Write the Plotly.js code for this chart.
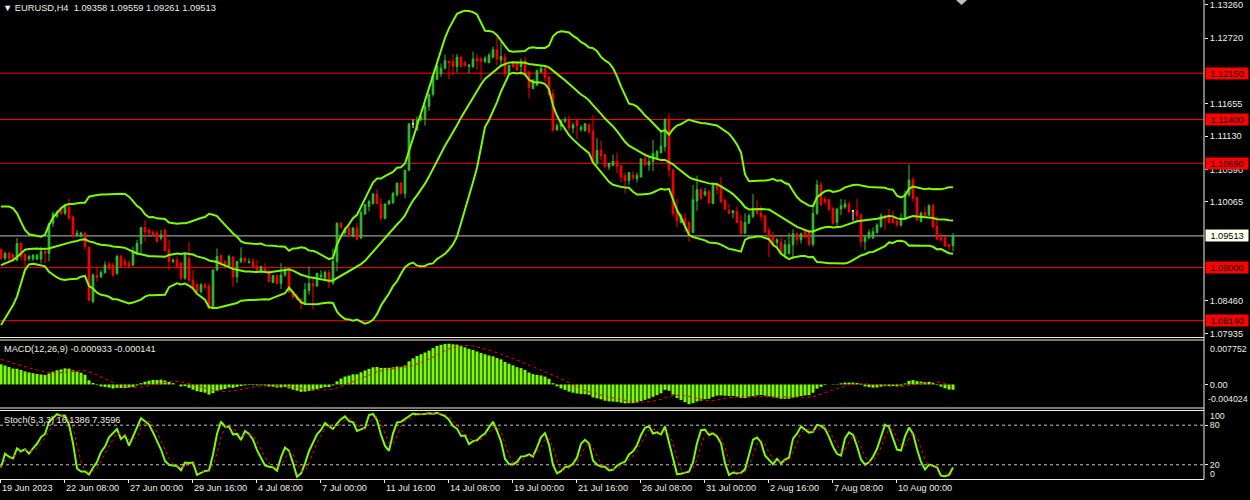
<!DOCTYPE html>
<html>
<head>
<meta charset="utf-8">
<script src="https://cdn.plot.ly/plotly-3.0.1.min.js"></script>
<style>
  html, body { margin: 0; padding: 0; background: #000; }
  #chart { width: 1250px; height: 500px; }
</style>
</head>
<body>
<div id="chart"></div>
<script>
// EURUSD H4 bars, 19 Jun 2023 16:00 onwards
const open = [
  1.0929,1.0915,1.0923,1.0921,1.0912,1.0939,1.0922,1.0914,1.0914,1.0914,
  1.0914,1.0926,1.0923,1.0972,1.0983,1.0993,1.0988,1.0998,1.0982,1.0953,
  1.0951,1.0956,1.0933,1.0845,1.0887,1.0885,1.0892,1.0906,1.0904,1.0891,
  1.0918,1.0910,1.0907,1.0904,1.0923,1.0939,1.0965,1.0961,1.0957,1.0956,
  1.0948,1.0961,1.0929,1.0910,1.0912,1.0907,1.0883,1.0915,1.0880,1.0872,
  1.0861,1.0872,1.0870,1.0834,1.0896,1.0919,1.0910,1.0902,1.0917,1.0885,
  1.0910,1.0915,1.0908,1.0910,1.0902,1.0894,1.0899,1.0895,1.0876,1.0887,
  1.0874,1.0888,1.0896,1.0860,1.0853,1.0849,1.0842,1.0863,1.0874,1.0870,
  1.0885,1.0883,1.0892,1.0875,1.0910,1.0972,1.0956,1.0964,1.0951,1.0964,
  1.0948,1.0987,1.0999,1.1004,1.1019,1.1003,1.0980,1.1003,1.1005,1.1018,
  1.1037,1.1020,1.1058,1.1133,1.1123,1.1139,1.1140,1.1161,1.1181,1.1205,
  1.1214,1.1223,1.1234,1.1234,1.1226,1.1241,1.1232,1.1226,1.1226,1.1239,
  1.1238,1.1234,1.1232,1.1241,1.1253,1.1236,1.1241,1.1215,1.1232,1.1232,
  1.1226,1.1235,1.1217,1.1190,1.1196,1.1217,1.1223,1.1209,1.1182,1.1123,
  1.1129,1.1137,1.1140,1.1126,1.1138,1.1124,1.1122,1.1131,1.1121,1.1069,
  1.1090,1.1083,1.1063,1.1066,1.1072,1.1065,1.1049,1.1041,1.1050,1.1044,
  1.1047,1.1076,1.1066,1.1072,1.1076,1.1086,1.1096,1.1140,1.1058,1.0992,
  1.0973,1.0980,1.0973,1.0957,1.1008,1.1026,1.1018,1.1023,1.1004,1.1036,
  1.1029,1.1009,1.0993,1.0989,1.0991,1.0975,1.0956,1.0972,1.0983,1.0996,
  1.0988,1.0984,1.0960,1.0951,1.0941,1.0941,1.0921,1.0923,1.0937,1.0955,
  1.0945,1.0961,1.0957,1.0938,1.0988,1.1034,1.1011,1.1010,1.0996,1.0973,
  1.0995,1.0998,1.1003,1.0992,1.0992,1.0985,1.0942,1.0948,1.0948,1.0957,
  1.0966,1.0984,1.0984,1.0980,1.0975,1.0969,1.0978,1.1018,1.1042,1.1014,
  1.0975,1.0989,1.0985,1.1000,1.0967,1.0948,1.0949,1.0937,1.09358
];
const high = [
  1.0931,1.0926,1.0926,1.0923,1.0948,1.0941,1.0923,1.0921,1.0922,1.0922,
  1.0934,1.0931,1.0972,1.0991,1.0993,1.0996,1.1003,1.1012,1.0984,1.0961,
  1.0958,1.0957,1.0934,1.0891,1.0902,1.0896,1.0910,1.0910,1.0908,1.0921,
  1.0921,1.0915,1.0912,1.0934,1.0945,1.0966,1.0977,1.0964,1.0961,1.0961,
  1.0961,1.0962,1.0945,1.0915,1.0918,1.0910,1.0921,1.0942,1.0896,1.0875,
  1.0875,1.0875,1.0875,1.0897,1.0931,1.0922,1.0912,1.0921,1.0918,1.0910,
  1.0933,1.0917,1.0915,1.0915,1.0912,1.0903,1.0907,1.0896,1.0888,1.0888,
  1.0907,1.0902,1.0899,1.0863,1.0858,1.0850,1.0875,1.0902,1.0885,1.0891,
  1.0896,1.0895,1.0896,1.0931,1.0972,1.0974,1.0966,1.0969,1.0966,1.0973,
  1.0993,1.1003,1.1010,1.1021,1.1027,1.1012,1.1004,1.1010,1.1023,1.1037,
  1.1039,1.1058,1.1133,1.1140,1.1145,1.1146,1.1166,1.1181,1.1215,1.1227,
  1.1231,1.1245,1.1236,1.1246,1.1246,1.1242,1.1235,1.1230,1.1250,1.1246,
  1.1242,1.1243,1.1248,1.1258,1.1277,1.1266,1.1247,1.1228,1.1235,1.1234,
  1.1239,1.1241,1.1219,1.1205,1.1221,1.1228,1.1226,1.1211,1.1189,1.1134,
  1.1138,1.1144,1.1146,1.1135,1.1139,1.1131,1.1134,1.1134,1.1147,1.1110,
  1.1106,1.1084,1.1070,1.1083,1.1086,1.1066,1.1054,1.1054,1.1056,1.1054,
  1.1077,1.1086,1.1080,1.1107,1.1091,1.1123,1.1142,1.1150,1.1061,1.1011,
  1.0988,1.0988,1.0975,1.1034,1.1049,1.1029,1.1029,1.1026,1.1038,1.1039,
  1.1047,1.1012,1.1003,1.0993,1.0999,1.0985,1.0988,1.0988,1.1019,1.1009,
  1.1000,1.0985,1.0966,1.0958,1.0948,1.0949,1.0945,1.0956,1.0962,1.0957,
  1.0957,1.0962,1.0961,1.0999,1.1042,1.1039,1.1015,1.1011,1.0998,1.0996,
  1.1011,1.1010,1.1007,1.0993,1.1011,1.0988,1.0953,1.0962,1.0965,1.0972,
  1.0988,1.0985,1.0995,1.0992,1.0977,1.0988,1.1025,1.1067,1.1047,1.1015,
  1.0991,1.0998,1.1003,1.1004,1.0983,1.0956,1.0950,1.0939,1.09559
];
const low = [
  1.0912,1.0912,1.0910,1.0910,1.0910,1.0912,1.0891,1.0911,1.0911,1.0912,
  1.0907,1.0907,1.0910,1.0966,1.0980,1.0985,1.0985,1.0977,1.0948,1.0950,
  1.0949,1.0929,1.0845,1.0842,1.0877,1.0883,1.0890,1.0896,1.0885,1.0888,
  1.0899,1.0902,1.0901,1.0902,1.0921,1.0923,1.0942,1.0953,1.0950,1.0941,
  1.0944,1.0926,1.0896,1.0907,1.0899,1.0880,1.0880,1.0875,1.0864,1.0858,
  1.0858,1.0864,1.0832,1.0832,1.0894,1.0902,1.0899,1.0899,1.0869,1.0875,
  1.0907,1.0907,1.0907,1.0899,1.0894,1.0891,1.0891,1.0877,1.0875,1.0874,
  1.0865,1.0885,1.0860,1.0850,1.0847,1.0832,1.0840,1.0856,1.0832,1.0869,
  1.0883,1.0880,1.0867,1.0872,1.0894,1.0964,1.0953,1.0950,1.0949,1.0944,
  1.0946,1.0985,1.0991,1.1002,1.1003,1.0976,1.0978,1.1002,1.1003,1.1015,
  1.1019,1.1012,1.1056,1.1126,1.1122,1.1138,1.1130,1.1154,1.1177,1.1204,
  1.1209,1.1221,1.1205,1.1211,1.1216,1.1226,1.1226,1.1215,1.1223,1.1220,
  1.1203,1.1231,1.1231,1.1239,1.1228,1.1228,1.1209,1.1214,1.1223,1.1219,
  1.1212,1.1209,1.1174,1.1189,1.1194,1.1215,1.1200,1.1177,1.1119,1.1122,
  1.1122,1.1134,1.1122,1.1118,1.1108,1.1120,1.1120,1.1117,1.1066,1.1066,
  1.1074,1.1061,1.1058,1.1064,1.1053,1.1038,1.1020,1.1034,1.1042,1.1038,
  1.1046,1.1064,1.1057,1.1056,1.1074,1.1085,1.1088,1.1047,1.0983,1.0965,
  1.0972,1.0958,1.0942,1.0956,1.0992,1.1010,1.1015,1.1003,1.1003,1.1019,
  1.1004,1.0993,1.0987,1.0980,1.0972,1.0953,1.0954,1.0971,1.0980,1.0985,
  1.0976,1.0956,1.0917,1.0934,1.0931,1.0921,1.0915,1.0921,1.0915,1.0937,
  1.0939,1.0948,1.0935,1.0934,1.0985,1.0999,1.1002,1.0991,1.0969,1.0966,
  1.0985,1.0995,1.0988,1.0976,1.0973,1.0934,1.0928,1.0946,1.0946,1.0955,
  1.0965,1.0961,1.0971,1.0971,1.0966,1.0966,1.0977,1.1015,1.1007,1.0975,
  1.0973,1.0983,1.0984,1.0964,1.0945,1.0942,1.0934,1.0928,1.09261
];
const close = [
  1.0915,1.0923,1.0915,1.0912,1.0939,1.0918,1.0912,1.0918,1.0920,1.0920,
  1.0926,1.0923,1.0971,1.0987,1.0990,1.0988,1.1000,1.0980,1.0951,1.0956,
  1.0956,1.0934,1.0847,1.0888,1.0884,1.0892,1.0904,1.0899,1.0888,1.0918,
  1.0902,1.0904,1.0902,1.0926,1.0939,1.0965,1.0958,1.0956,1.0953,1.0942,
  1.0953,1.0928,1.0910,1.0912,1.0902,1.0883,1.0921,1.0880,1.0867,1.0861,
  1.0872,1.0868,1.0834,1.0896,1.0918,1.0907,1.0902,1.0918,1.0885,1.0910,
  1.0915,1.0911,1.0909,1.0901,1.0896,1.0902,1.0895,1.0877,1.0887,1.0874,
  1.0888,1.0896,1.0860,1.0852,1.0848,1.0842,1.0864,1.0874,1.0870,1.0891,
  1.0888,1.0892,1.0876,1.0910,1.0972,1.0965,1.0962,1.0951,1.0964,1.0946,
  1.0989,1.1002,1.1007,1.1019,1.1004,1.0980,1.1003,1.1008,1.1020,1.1037,
  1.1020,1.1058,1.1133,1.1133,1.1139,1.1145,1.1161,1.1181,1.1212,1.1227,
  1.1223,1.1235,1.1232,1.1226,1.1241,1.1226,1.1227,1.1228,1.1238,1.1235,
  1.1234,1.1239,1.1244,1.1253,1.1238,1.1242,1.1215,1.1228,1.1226,1.1220,
  1.1234,1.1215,1.1192,1.1204,1.1219,1.1223,1.1208,1.1181,1.1123,1.1130,
  1.1138,1.1140,1.1126,1.1131,1.1130,1.1127,1.1133,1.1120,1.1069,1.1090,
  1.1081,1.1064,1.1069,1.1072,1.1064,1.1047,1.1041,1.1054,1.1045,1.1049,
  1.1076,1.1067,1.1072,1.1085,1.1088,1.1097,1.1140,1.1058,1.0988,1.0976,
  1.0984,1.0971,1.0957,1.1010,1.1026,1.1012,1.1023,1.1005,1.1036,1.1027,
  1.1007,1.0995,1.0988,1.0992,1.0973,1.0956,1.0973,1.0984,1.0996,1.0988,
  1.0983,1.0958,1.0949,1.0937,1.0945,1.0923,1.0937,1.0937,1.0955,1.0945,
  1.0955,1.0949,1.0938,1.0988,1.1034,1.1002,1.1007,1.0995,1.0972,1.0995,
  1.1000,1.1003,1.0991,1.0992,1.0984,1.0942,1.0949,1.0957,1.0958,1.0969,
  1.0984,1.0980,1.0973,1.0973,1.0969,1.0980,1.1019,1.1042,1.1012,1.0977,
  1.0988,1.0984,1.1000,1.0966,1.0946,1.0945,1.0935,1.0934,1.09513
];

// Bollinger values on the first bars, where the 20-bar window reaches off the chart
const bbUpperHead = [1.0999,1.0999,1.0999,1.0996,1.0988,1.0974,1.0961,1.0954,1.0953,1.0952,
                     1.0950,1.0953,1.0969,1.0981,1.0989,1.0996,1.1001,1.1003,1.1003];
const bbMidHead   = [1.0904,1.0907,1.0910,1.0912,1.0917,1.0923,1.0929,1.0930,1.0931,1.0931,
                     1.0930,1.0930,1.0931,1.0933,1.0935,1.0937,1.0939,1.0941,1.0942];
const bbLowerHead = [1.0807,1.0818,1.0829,1.0839,1.0853,1.0875,1.0896,1.0905,1.0906,1.0905,
                     1.0904,1.0902,1.0893,1.0888,1.0884,1.0881,1.0880,1.0881,1.0882];

// MACD state carried in from before the first bar, and signal on the first bars
const ema12Seed = 1.0917;
const ema26Seed = 1.0878;
const signalHead = [0.00446,0.00428,0.00404,0.00381,0.00357,0.00333,0.00315,0.00297];

const levelLines = [1.12150, 1.11400, 1.10690, 1.09000, 1.08140];
const bidPrice = 1.09513;
const priceTicks = [1.13260, 1.12720, 1.11655, 1.11130, 1.10590, 1.10065, 1.08460, 1.07935];

const timeTickBars = [0, 16, 32, 48, 64, 80, 96, 112, 128, 144, 160, 176, 192, 208, 224];
const timeTickLabels = ["19 Jun 2023", "22 Jun 08:00", "27 Jun 00:00", "29 Jun 16:00", "4 Jul 08:00",
  "7 Jul 00:00", "11 Jul 16:00", "14 Jul 08:00", "19 Jul 00:00", "21 Jul 16:00", "26 Jul 08:00",
  "31 Jul 00:00", "2 Aug 16:00", "7 Aug 08:00", "10 Aug 00:00"];

const macdLabel = "MACD(12,26,9) -0.000933 -0.000141";
const stochLabel = "Stoch(5,3,3) 16.1386 7.3596";

// ---- indicators ----
const n = close.length;
const idx = close.map((_, i) => i);

const bbUpper = [], bbMid = [], bbLower = [];
for (let i = 0; i < n; i++) {
  if (i < bbMidHead.length) {
    bbUpper.push(bbUpperHead[i]); bbMid.push(bbMidHead[i]); bbLower.push(bbLowerHead[i]);
    continue;
  }
  const win = close.slice(i - 19, i + 1);
  const m = win.reduce((a, b) => a + b, 0) / 20;
  const sd = Math.sqrt(win.reduce((a, b) => a + (b - m) * (b - m), 0) / 20);
  bbMid.push(m); bbUpper.push(m + 2 * sd); bbLower.push(m - 2 * sd);
}

let emaFast = ema12Seed, emaSlow = ema26Seed;
const macd = close.map(c => {
  emaFast += (c - emaFast) * 2 / 13;
  emaSlow += (c - emaSlow) * 2 / 27;
  return emaFast - emaSlow;
});
const signal = macd.map((v, i) => i < signalHead.length
  ? signalHead[i]
  : macd.slice(i - 8, i + 1).reduce((a, b) => a + b, 0) / 9);

const num = [], den = [];
for (let i = 0; i < n; i++) {
  const lo = Math.max(0, i - 4);
  const hh = Math.max(...high.slice(lo, i + 1));
  const ll = Math.min(...low.slice(lo, i + 1));
  num.push(close[i] - ll); den.push(hh - ll);
}
const stochK = idx.map(i => {
  let a = 0, b = 0;
  for (let j = Math.max(0, i - 2); j <= i; j++) { a += num[j]; b += den[j]; }
  return b > 0 ? 100 * a / b : 50;
});
const stochD = idx.map(i => {
  const s = stochK.slice(Math.max(0, i - 2), i + 1);
  return s.reduce((a, b) => a + b, 0) / s.length;
});

// doji bars are drawn white, like the terminal does
const bodyIdx = idx.filter(i => open[i] !== close[i]);
const dojiIdx = idx.filter(i => open[i] === close[i]);
const pick = (arr, ids) => ids.map(i => arr[i]);

// ---- styling ----
const AX = "#f4f0dc";
const TXT = "#eeeee4";
const BULL = "#30c030";
const BEAR = "#ff0000";
const LIME = "#7cfc00";

const traces = [
  {
    type: "candlestick", x: bodyIdx,
    open: pick(open, bodyIdx), high: pick(high, bodyIdx), low: pick(low, bodyIdx), close: pick(close, bodyIdx),
    increasing: { line: { color: BULL, width: 1 }, fillcolor: BULL },
    decreasing: { line: { color: BEAR, width: 1 }, fillcolor: BEAR },
    whiskerwidth: 0, hoverinfo: "skip", xaxis: "x", yaxis: "y",
  },
  {
    type: "candlestick", x: dojiIdx,
    open: pick(open, dojiIdx), high: pick(high, dojiIdx), low: pick(low, dojiIdx), close: pick(close, dojiIdx),
    increasing: { line: { color: "#ffffff", width: 1 }, fillcolor: "#ffffff" },
    decreasing: { line: { color: "#ffffff", width: 1 }, fillcolor: "#ffffff" },
    whiskerwidth: 0, hoverinfo: "skip", xaxis: "x", yaxis: "y",
  },
  { type: "scatter", mode: "lines", x: idx, y: bbUpper, line: { color: LIME, width: 2 }, yaxis: "y" },
  { type: "scatter", mode: "lines", x: idx, y: bbMid, line: { color: LIME, width: 2 }, yaxis: "y" },
  { type: "scatter", mode: "lines", x: idx, y: bbLower, line: { color: LIME, width: 2 }, yaxis: "y" },
  { type: "bar", x: idx, y: macd, width: 0.75, marker: { color: LIME, line: { width: 0 } }, yaxis: "y2" },
  { type: "scatter", mode: "lines", x: idx, y: signal, line: { color: "#ff0000", width: 1, dash: "dot" }, yaxis: "y2" },
  { type: "scatter", mode: "lines", x: idx, y: stochK, line: { color: LIME, width: 2 }, yaxis: "y3" },
  { type: "scatter", mode: "lines", x: idx, y: stochD, line: { color: "#ff0000", width: 1, dash: "dot" }, yaxis: "y3" },
];

const hline = (y, yref, color, extra) => Object.assign({
  type: "line", xref: "paper", x0: 0, x1: 1, yref, y0: y, y1: y,
  line: { color, width: 1 }, layer: "below",
}, extra || {});
const paperLine = (y) => ({
  type: "line", xref: "paper", x0: 0, x1: 1, yref: "paper", y0: y, y1: y,
  line: { color: AX, width: 1 },
});

const shapes = [
  ...levelLines.map(v => hline(v, "y", "#ff0000")),
  hline(bidPrice, "y", "#c0c0c0"),
  hline(80, "y3", "#c8c8c8", { line: { color: "#c8c8c8", width: 1, dash: "3px,3px" } }),
  hline(20, "y3", "#c8c8c8", { line: { color: "#c8c8c8", width: 1, dash: "3px,3px" } }),
  paperLine(0.2954), paperLine(0.2902),
  paperLine(0.1482), paperLine(0.1430),
  { type: "line", xref: "paper", x0: 1, x1: 1, yref: "paper", y0: 0, y1: 1, line: { color: AX, width: 1 } },
  { type: "path", xref: "paper", yref: "paper", path: "M 0.7940 1 L 0.8032 1 L 0.7986 0.9896 Z",
    fillcolor: "#c0c0c0", line: { width: 0 } },
];

const boxLabel = (v, bg) => ({
  xref: "paper", x: 1, xanchor: "left", xshift: 1, yref: "y", y: v, yanchor: "middle",
  text: v.toFixed(5), showarrow: false, bgcolor: bg, borderpad: 1, width: 40, height: 9,
  font: { color: "#000000", size: 9.2 },
});
const sideLabel = (text, yref, y, yanchor, yshift, xshift) => ({
  xref: "paper", x: 1, xanchor: "left", xshift, yref, y, yanchor, yshift,
  showarrow: false, text, font: { color: TXT, size: 8.8 },
});

const annotations = [
  ...levelLines.map(v => boxLabel(v, "#ff0000")),
  boxLabel(bidPrice, "#fffff0"),
  { xref: "paper", x: 0, xanchor: "left", xshift: 1, yref: "paper", y: 1, yanchor: "top", yshift: -1,
    showarrow: false, font: { color: TXT, size: 9.3 },
    text: "\u25BC EURUSD,H4\u00a0\u00a0" + [open, high, low, close].map(a => a[n - 1].toFixed(5)).join(" ") },
  { xref: "paper", x: 0, xanchor: "left", xshift: 2, yref: "paper", y: 0.2881, yanchor: "top", yshift: -1,
    showarrow: false, font: { color: TXT, size: 9.2 }, text: macdLabel },
  { xref: "paper", x: 0, xanchor: "left", xshift: 2, yref: "paper", y: 0.1399, yanchor: "top", yshift: -1,
    showarrow: false, font: { color: TXT, size: 9.2 }, text: stochLabel },
  sideLabel("0.007752", "y2", 0.007752, "top", -1, 4),
  sideLabel("-0.004024", "y2", -0.004024, "bottom", 1, 2),
  sideLabel("100", "y3", 100, "top", 3, 4),
  sideLabel("0", "y3", 0, "bottom", -3, 4),
  ...timeTickBars.map((b, k) => ({
    xref: "x", x: b - 0.25, xanchor: "left", yref: "paper", y: 0, yanchor: "top", yshift: -2,
    showarrow: false, text: timeTickLabels[k], font: { color: TXT, size: 9.2 },
  })),
];

const sideAxis = {
  side: "right", anchor: "x", showgrid: false, zeroline: false, showline: false,
  ticks: "outside", ticklen: 3, tickcolor: AX, tickfont: { color: TXT, size: 9.2 },
  ticklabeloverflow: "allow", fixedrange: true,
};

Plotly.newPlot("chart", traces, {
  width: 1250, height: 500,
  paper_bgcolor: "#000000", plot_bgcolor: "#000000",
  margin: { l: 0, r: 46, t: 0, b: 21 },
  showlegend: false, hovermode: false,
  font: { family: "Liberation Sans, Arial, sans-serif", size: 9.2, color: TXT },
  boxgap: 0.4,
  xaxis: {
    range: [-0.25, 300.75], anchor: "free", position: 0,
    showgrid: false, zeroline: false, showline: true, linecolor: AX, linewidth: 1,
    ticks: "outside", ticklen: 3, tickcolor: AX,
    tickvals: timeTickBars.map(b => b - 0.25), showticklabels: false,
    rangeslider: { visible: false }, fixedrange: true,
  },
  yaxis: Object.assign({}, sideAxis, {
    domain: [0.2985, 1], range: [1.07891, 1.13336],
    tickvals: priceTicks, tickformat: ".5f",
  }),
  yaxis2: Object.assign({}, sideAxis, {
    domain: [0.1503, 0.2881], range: [-0.004024, 0.007752],
    tickvals: [0], ticktext: ["0.00"],
  }),
  yaxis3: Object.assign({}, sideAxis, {
    domain: [0.0021, 0.1399], range: [0, 100],
    tickvals: [80, 20], ticktext: ["80", "20"], tickfont: { color: TXT, size: 8.8 },
  }),
  shapes, annotations,
}, { displayModeBar: false, staticPlot: true });
</script>
</body>
</html>
